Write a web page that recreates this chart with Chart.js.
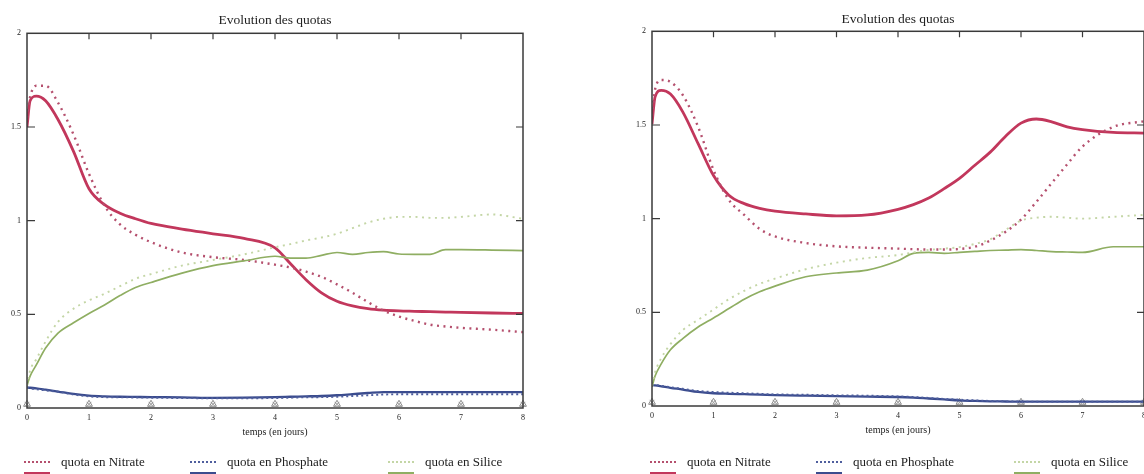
<!DOCTYPE html>
<html lang="fr">
<head>
<meta charset="utf-8">
<title>Evolution des quotas</title>
<script src="https://cdn.jsdelivr.net/npm/chart.js@4.4.1/dist/chart.umd.min.js"></script>
<style>
  html, body { margin: 0; padding: 0; background: #fff; width: 1144px; height: 474px; overflow: hidden; position: relative; }
  .panneau { position: absolute; top: 0; }
  #graphG { left: 0; }
  #graphD { left: 580px; }
  .texte { position: absolute; white-space: nowrap; font-family: 'Liberation Serif', serif; font-size: 13px; line-height: 14px; color: #222; }
  .trait { position: absolute; width: 26px; }
</style>
</head>
<body>
<canvas id="graphG" class="panneau" width="560" height="474"></canvas>
<canvas id="graphD" class="panneau" width="580" height="474"></canvas>
<div id="legende"></div>
<script>
    // temps (en jours), grille commune aux deux graphes
    const temps = [0, 0.05, 0.15, 0.3, 0.5, 0.75, 1, 1.25, 1.5, 1.75, 2, 2.5, 3, 3.5, 4, 4.25, 4.5, 4.75, 5, 5.25, 5.5, 5.75, 6, 6.25, 6.5, 6.75, 7, 7.5, 8];

    // graphe de gauche
    const nitratePointG = [1.55, 1.66, 1.72, 1.72, 1.63, 1.46, 1.25, 1.08, 0.98, 0.925, 0.885, 0.83, 0.805, 0.79, 0.765, 0.75, 0.728, 0.70, 0.66, 0.615, 0.565, 0.52, 0.488, 0.465, 0.445, 0.435, 0.428, 0.418, 0.405];
    const nitrateContG = [1.50, 1.64, 1.665, 1.64, 1.54, 1.37, 1.17, 1.085, 1.04, 1.01, 0.985, 0.955, 0.93, 0.905, 0.855, 0.77, 0.685, 0.615, 0.57, 0.545, 0.53, 0.522, 0.518, 0.516, 0.514, 0.512, 0.51, 0.507, 0.505];
    const phosphatePointG = [0.11, 0.105, 0.1, 0.094, 0.087, 0.072, 0.062, 0.058, 0.057, 0.056, 0.055, 0.053, 0.052, 0.052, 0.053, 0.055, 0.057, 0.058, 0.06, 0.064, 0.068, 0.072, 0.073, 0.073, 0.073, 0.073, 0.073, 0.073, 0.073];
    const phosphateContG = [0.11, 0.108, 0.105, 0.098, 0.088, 0.075, 0.066, 0.062, 0.06, 0.059, 0.058, 0.057, 0.054, 0.055, 0.058, 0.06, 0.062, 0.064, 0.068, 0.074, 0.08, 0.085, 0.085, 0.085, 0.085, 0.085, 0.085, 0.085, 0.085];
    const silicePointG = [0.12, 0.2, 0.26, 0.355, 0.46, 0.53, 0.575, 0.61, 0.65, 0.69, 0.715, 0.76, 0.79, 0.82, 0.858, 0.875, 0.894, 0.91, 0.93, 0.96, 0.99, 1.01, 1.02, 1.02, 1.015, 1.015, 1.02, 1.033, 1.01];
    const siliceContG = [0.12, 0.17, 0.23, 0.32, 0.40, 0.455, 0.505, 0.55, 0.6, 0.643, 0.67, 0.72, 0.76, 0.785, 0.81, 0.80, 0.80, 0.815, 0.83, 0.82, 0.83, 0.835, 0.822, 0.82, 0.82, 0.845, 0.845, 0.843, 0.84];

    // graphe de droite
    const nitratePointD = [1.55, 1.69, 1.74, 1.73, 1.66, 1.49, 1.26, 1.1, 1.02, 0.945, 0.905, 0.87, 0.852, 0.845, 0.84, 0.837, 0.835, 0.835, 0.838, 0.85, 0.883, 0.93, 0.995, 1.09, 1.19, 1.29, 1.385, 1.49, 1.52];
    const nitrateContD = [1.505, 1.65, 1.685, 1.665, 1.57, 1.40, 1.23, 1.125, 1.08, 1.055, 1.04, 1.025, 1.015, 1.02, 1.05, 1.075, 1.11, 1.16, 1.215, 1.285, 1.355, 1.44, 1.51, 1.532, 1.517, 1.49, 1.475, 1.46, 1.457];
    const phosphatePointD = [0.112, 0.112, 0.108, 0.1, 0.092, 0.08, 0.075, 0.071, 0.068, 0.065, 0.062, 0.06, 0.057, 0.055, 0.051, 0.048, 0.043, 0.038, 0.034, 0.03, 0.027, 0.025, 0.024, 0.023, 0.023, 0.023, 0.023, 0.023, 0.023];
    const phosphateContD = [0.112, 0.11, 0.105, 0.097, 0.088, 0.075, 0.068, 0.065, 0.063, 0.061, 0.058, 0.055, 0.053, 0.05, 0.048, 0.045, 0.04, 0.035, 0.03, 0.027, 0.025, 0.024, 0.023, 0.023, 0.023, 0.023, 0.023, 0.023, 0.023];
    const silicePointD = [0.11, 0.18, 0.255, 0.33, 0.405, 0.46, 0.515, 0.57, 0.615, 0.652, 0.68, 0.73, 0.765, 0.79, 0.806, 0.82, 0.833, 0.84, 0.848, 0.865, 0.89, 0.94, 0.99, 1.005, 1.01, 1.005, 1.0, 1.01, 1.02];
    const siliceContD = [0.103, 0.16, 0.225, 0.3, 0.36, 0.422, 0.47, 0.52, 0.57, 0.61, 0.64, 0.69, 0.71, 0.725, 0.775, 0.815, 0.82, 0.815, 0.82, 0.825, 0.83, 0.832, 0.835, 0.83, 0.824, 0.822, 0.82, 0.85, 0.85];

    // petits repères au pied de l'axe des temps
    const reperesX = [0, 1, 2, 3, 4, 5, 6, 7, 8];
    const reperesY = [0.02, 0.02, 0.02, 0.02, 0.02, 0.02, 0.02, 0.02, 0.02];

    const ticksX = [0, 1, 2, 3, 4, 5, 6, 7, 8];
    const ticksY = [0, 0.5, 1, 1.5, 2];
    const libellesY = ['0', '0.5', '1', '1.5', '2'];

    const substances = ['quota en Nitrate', 'quota en Phosphate', 'quota en Silice'];
    const couleursPoint = ['#b5506e', '#4f5f9e', '#c4d6a6'];
    const couleursCont = ['#c2375c', '#3b4c8e', '#8fae62'];

    const police = "'Liberation Serif', 'Times New Roman', serif";

    function points(serie) {
        return temps.map((t, i) => ({ x: t, y: serie[i] }));
    }

    function jeuxDeDonnees(series) {
        const [nP, nC, pP, pC, sP, sC] = series;
        return [
            { label: substances[2], data: points(sP), borderColor: couleursPoint[2], borderWidth: 1.9, borderDash: [2, 4.5] },
            { label: substances[2], data: points(sC), borderColor: couleursCont[2], borderWidth: 1.7 },
            { label: substances[1], data: points(pP), borderColor: couleursPoint[1], borderWidth: 1.9, borderDash: [2, 3] },
            { label: substances[1], data: points(pC), borderColor: couleursCont[1], borderWidth: 2.3 },
            { label: substances[0], data: points(nP), borderColor: couleursPoint[0], borderWidth: 2.4, borderDash: [2, 4.5] },
            { label: substances[0], data: points(nC), borderColor: couleursCont[0], borderWidth: 2.8 },
            {
                label: 'repères', data: reperesX.map((x, i) => ({ x, y: reperesY[i] })),
                showLine: false, pointStyle: 'triangle', pointRadius: 4, pointBorderWidth: 1,
                pointBorderColor: '#8c8c8c', pointBackgroundColor: 'rgba(0,0,0,0)', clip: false
            },
            {
                label: 'repères', data: reperesX.map((x, i) => ({ x, y: reperesY[i] })),
                showLine: false, pointStyle: 'crossRot', pointRadius: 3.4, pointBorderWidth: 1,
                pointBorderColor: '#9a9a9a', clip: false
            }
        ];
    }

    // cadre et graduations tournées vers l'intérieur
    const cadre = {
        id: 'cadre',
        afterDatasetsDraw(chart) {
            const { ctx, chartArea: a, scales: { x, y } } = chart;
            ctx.save();
            ctx.strokeStyle = '#3a3a3a';
            ctx.lineWidth = 1.5;
            ctx.strokeRect(a.left, a.top, a.right - a.left, a.bottom - a.top);
            ctx.lineWidth = 1.2;
            ctx.beginPath();
            x.ticks.forEach(t => {
                if (t.value <= x.min || t.value >= x.max) return;
                const px = x.getPixelForValue(t.value);
                ctx.moveTo(px, a.top);
                ctx.lineTo(px, a.top + 6);
            });
            y.ticks.forEach(t => {
                if (t.value <= y.min || t.value >= y.max) return;
                const py = y.getPixelForValue(t.value);
                ctx.moveTo(a.left, py);
                ctx.lineTo(a.left + 8, py);
                ctx.moveTo(a.right, py);
                ctx.lineTo(a.right - 7, py);
            });
            ctx.stroke();
            ctx.restore();
        }
    };

    function creerGraphe(id, series, largeurY, padding, titrePadding) {
        return new Chart(document.getElementById(id), {
            type: 'line',
            data: { datasets: jeuxDeDonnees(series) },
            options: {
                responsive: false,
                animation: false,
                layout: { padding },
                elements: {
                    point: { radius: 0 },
                    line: { cubicInterpolationMode: 'monotone', borderCapStyle: 'butt', fill: false }
                },
                plugins: {
                    legend: { display: false },
                    tooltip: { enabled: false },
                    title: {
                        display: true,
                        text: 'Evolution des quotas',
                        fullSize: false,
                        color: '#222',
                        font: { family: police, size: 13.5, weight: 'normal' },
                        padding: titrePadding
                    }
                },
                scales: {
                    x: {
                        type: 'linear', min: 0, max: 8,
                        afterBuildTicks: s => { s.ticks = ticksX.map(v => ({ value: v })); },
                        afterFit: s => { s.height = 40; },
                        grid: { display: false, drawTicks: false, tickLength: 0 },
                        border: { display: false },
                        ticks: {
                            padding: 5, color: '#222', maxRotation: 0, autoSkip: false,
                            font: { family: police, size: 8 },
                            callback: v => String(v)
                        },
                        title: {
                            display: true, text: 'temps (en jours)', color: '#222',
                            font: { family: police, size: 10 },
                            padding: { top: 0, bottom: 10 }
                        }
                    },
                    y: {
                        type: 'linear', min: 0, max: 2,
                        afterBuildTicks: s => { s.ticks = ticksY.map(v => ({ value: v })); },
                        afterFit: s => { s.width = largeurY; },
                        grid: { display: false, drawTicks: false, tickLength: 0 },
                        border: { display: false },
                        ticks: {
                            padding: 6, color: '#222',
                            font: { family: police, size: 8 },
                            callback: v => libellesY[ticksY.indexOf(v)] ?? String(v)
                        }
                    }
                }
            },
            plugins: [cadre]
        });
    }

    function construireLegende(origine) {
        const boite = document.getElementById('legende');
        const decalages = [0, 166, 364];
        substances.forEach((nom, i) => {
            const x = origine + decalages[i];
            const pointille = document.createElement('div');
            pointille.className = 'trait';
            pointille.style.left = x + 'px';
            pointille.style.top = '461px';
            pointille.style.borderTop = '2px dotted ' + couleursPoint[i];
            boite.appendChild(pointille);

            const continu = document.createElement('div');
            continu.className = 'trait';
            continu.style.left = x + 'px';
            continu.style.top = '472px';
            continu.style.height = '3px';
            continu.style.background = couleursCont[i];
            boite.appendChild(continu);

            const texte = document.createElement('div');
            texte.className = 'texte';
            texte.style.left = (x + 37) + 'px';
            texte.style.top = '455px';
            texte.textContent = nom;
            boite.appendChild(texte);
        });
    }

    document.addEventListener('DOMContentLoaded', () => {
        creerGraphe('graphG',
            [nitratePointG, nitrateContG, phosphatePointG, phosphateContG, silicePointG, siliceContG],
            27, { top: 0, left: 0, right: 37, bottom: 26 }, { top: 12.5, bottom: 4.6 });
        creerGraphe('graphD',
            [nitratePointD, nitrateContD, phosphatePointD, phosphateContD, silicePointD, siliceContD],
            72, { top: 0, left: 0, right: 16, bottom: 28 }, { top: 11.5, bottom: 3.6 });
        construireLegende(24);
        construireLegende(650);
    });
</script>
</body>
</html>
